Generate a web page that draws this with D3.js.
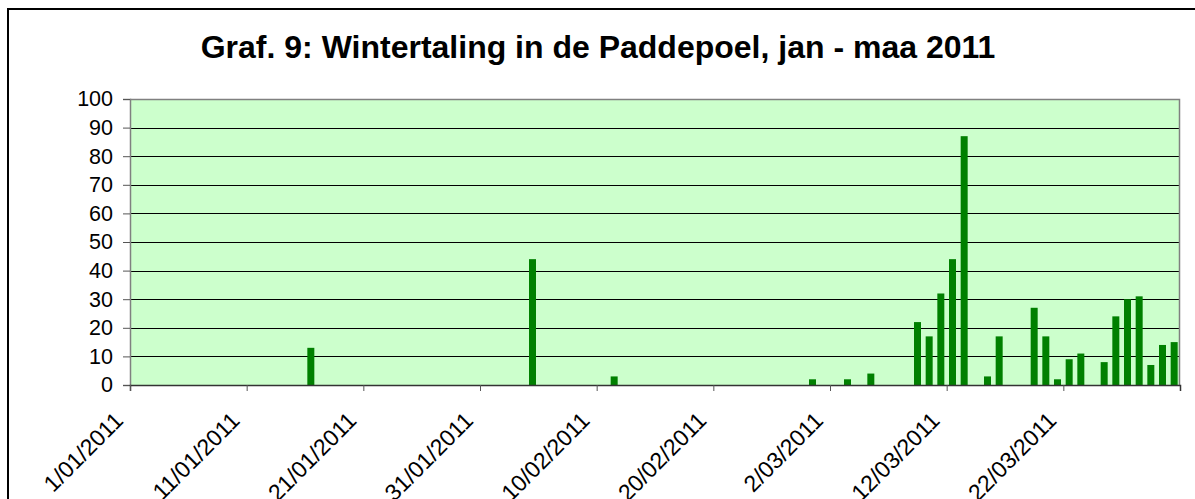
<html>
  <script src="https://d3js.org/d3.v7.min.js"></script>
  <style>
    body { margin: 0; background: #fff; font-family: Arial, 'Liberation Sans', sans-serif; }
  </style>
  <body>
    <svg id="vis" width="1195" height="499"></svg>
    <script>
      // telling dates and counts (Wintertaling, Paddepoel 2011)
      const days = ["2011-01-16", "2011-02-04", "2011-02-11", "2011-02-28", "2011-03-03", "2011-03-05",
                    "2011-03-09", "2011-03-10", "2011-03-11", "2011-03-12", "2011-03-13", "2011-03-15",
                    "2011-03-16", "2011-03-19", "2011-03-20", "2011-03-21", "2011-03-22", "2011-03-23",
                    "2011-03-25", "2011-03-26", "2011-03-27", "2011-03-28", "2011-03-29", "2011-03-30",
                    "2011-03-31"]
      const counts = [13, 44, 3, 2, 2, 4,
                      22, 17, 32, 44, 87, 3,
                      17, 27, 17, 2, 9, 11,
                      8, 24, 30, 31, 7, 14,
                      15]

      const tickDays = ["2011-01-01", "2011-01-11", "2011-01-21", "2011-01-31", "2011-02-10",
                        "2011-02-20", "2011-03-02", "2011-03-12", "2011-03-22"]
      const tickLabels = ["1/01/2011", "11/01/2011", "21/01/2011", "31/01/2011", "10/02/2011",
                          "20/02/2011", "2/03/2011", "12/03/2011", "22/03/2011"]
      const yTicks = [0, 10, 20, 30, 40, 50, 60, 70, 80, 90, 100]
      const title = "Graf. 9: Wintertaling in de Paddepoel, jan - maa 2011"

      const parse = d3.timeParse("%Y-%m-%d")
      const fmt = d3.timeFormat("%Y-%m-%d")

      const pL = 130, pR = 1180, pT = 99, pB = 385

      var svg = d3.select("#vis")

      // outer chart frame
      svg.append("rect")
        .attr("x", 8).attr("y", 9)
        .attr("width", 1300).attr("height", 700)
        .style("fill", "#fff")
        .style("stroke", "#000")
        .style("stroke-width", 2)

      svg.append("text")
        .attr("x", 598)
        .attr("y", 58)
        .attr("text-anchor", "middle")
        .style("font-weight", "bold")
        .style("font-size", "32px")
        .style("fill", "#000")
        .text(title)

      var start = parse("2011-01-01"), end = parse("2011-04-01")
      var allDays = d3.timeDay.range(start, end).map(fmt)

      var xt = d3.scaleTime().domain([start, end]).range([pL, pR])
      var xb = d3.scaleBand().domain(allDays).range([pL, pR])
        .paddingInner(0.4).paddingOuter(0.2)
      var y = d3.scaleLinear().domain([0, 100]).range([pB, pT])

      // plot area
      svg.append("rect")
        .attr("x", pL).attr("y", pT)
        .attr("width", pR - pL).attr("height", pB - pT)
        .style("fill", "#ccffcc")

      // gridlines
      svg.append("g")
        .selectAll("line")
        .data(yTicks.filter(d => d > 0 && d < 100))
        .join("line")
        .attr("x1", pL).attr("x2", pR)
        .attr("y1", d => Math.round(y(d)) + 0.5)
        .attr("y2", d => Math.round(y(d)) + 0.5)
        .style("stroke", "#000")
        .style("stroke-width", 1)

      // border top/right gray
      svg.append("path")
        .attr("d", `M${pL},${pT + 0.5}H${pR - 0.5}V${pB}`)
        .style("fill", "none")
        .style("stroke", "#808080")
        .style("stroke-width", 1.5)

      // bars
      svg.append("g")
        .selectAll("rect")
        .data(days)
        .join("rect")
        .attr("x", d => xb(d))
        .attr("width", xb.bandwidth())
        .attr("y", (d, i) => y(counts[i]))
        .attr("height", (d, i) => y(0) - y(counts[i]))
        .style("fill", "#008000")

      // y axis
      var yAxis = d3.axisLeft(y).tickValues(yTicks).tickSize(7).tickPadding(10)
      var gy = svg.append("g")
        .attr("transform", `translate(${pL},0)`)
        .call(yAxis)
      gy.select(".domain").style("stroke", "#808080").style("stroke-width", 1.5)
      gy.selectAll(".tick line").style("stroke", "#555")
      gy.selectAll(".tick text")
        .style("font-size", "21.5px")
        .style("font-family", "Arial, 'Liberation Sans', sans-serif")
        .style("fill", "#000")

      // x axis
      var xAxis = d3.axisBottom(xt)
        .tickValues(tickDays.map(parse))
        .tickSize(6)
        .tickFormat((d, i) => tickLabels[i])
      var gx = svg.append("g")
        .attr("transform", `translate(0,${pB})`)
        .call(xAxis)
      gx.select(".domain").style("stroke", "#333").style("stroke-width", 1.5)
      gx.selectAll(".tick line").style("stroke", "#555")
      gx.selectAll(".tick text")
        .style("font-size", "23px")
        .style("font-family", "Arial, 'Liberation Sans', sans-serif")
        .style("fill", "#000")
        .attr("text-anchor", "end")
        .attr("dy", null)
        .attr("y", 0)
        .attr("transform", "translate(-6,37) rotate(-45)")
    </script>
  </body>
</html>
